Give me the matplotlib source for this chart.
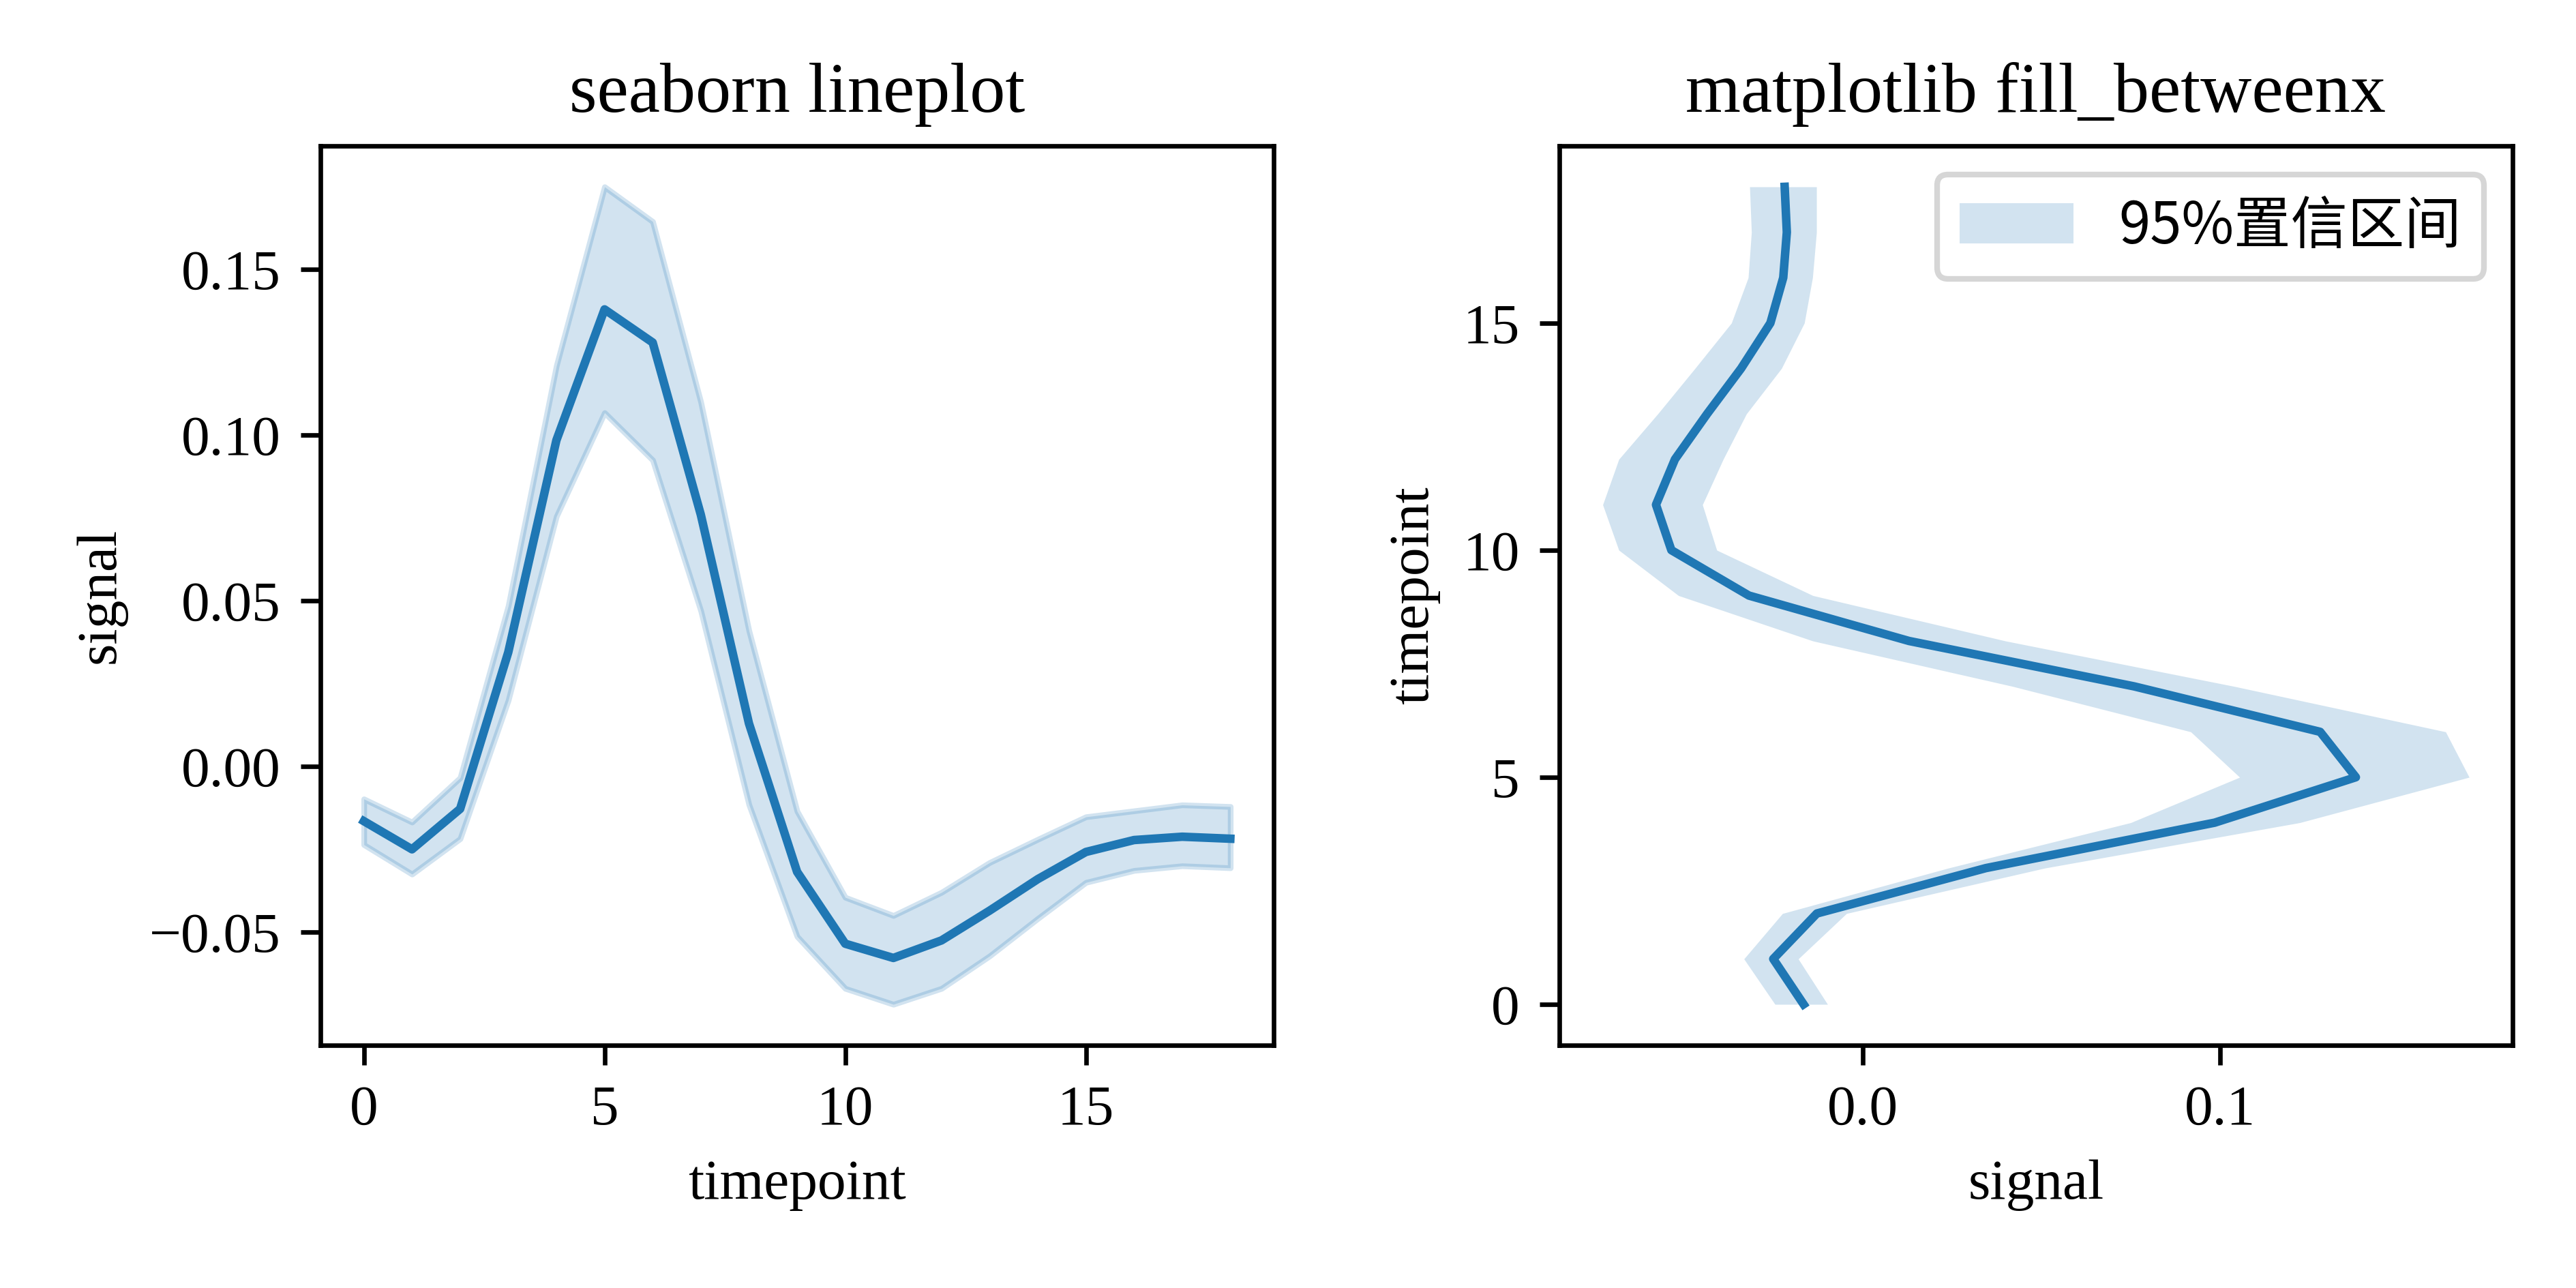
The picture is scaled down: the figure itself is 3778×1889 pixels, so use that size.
import numpy as np
import matplotlib
matplotlib.use("Agg")
import matplotlib.pyplot as plt

# fmri-style mean signal per timepoint
timepoint = np.arange(19)
signal_mean = [-0.0165, -0.0250, -0.0128, 0.0345, 0.0985, 0.1380, 0.1280, 0.0760,
               0.0130, -0.0318, -0.0535, -0.0578, -0.0525, -0.0435, -0.0340,
               -0.0258, -0.0222, -0.0212, -0.0218]
# seaborn's bootstrapped 95% band (left panel)
ci_low = [-0.0236, -0.0325, -0.0218, 0.0200, 0.0755, 0.1068, 0.0925, 0.0470,
          -0.0115, -0.0513, -0.0670, -0.0718, -0.0670, -0.0572, -0.0459,
          -0.0350, -0.0314, -0.0300, -0.0306]
ci_high = [-0.0098, -0.0168, -0.0034, 0.0485, 0.1210, 0.1750, 0.1645, 0.1100,
           0.0410, -0.0135, -0.0395, -0.0450, -0.0380, -0.0290, -0.0220,
           -0.0152, -0.0134, -0.0116, -0.0121]
# band drawn with fill_betweenx (right panel), slightly different values
ci_low_x = [-0.0245, -0.0332, -0.0224, 0.0240, 0.0750, 0.1055, 0.0918, 0.0420,
            -0.0139, -0.0515, -0.0682, -0.0727, -0.0682, -0.0573, -0.0469,
            -0.0367, -0.0320, -0.0311, -0.0316]
ci_high_x = [-0.0098, -0.0180, -0.0045, 0.0510, 0.1223, 0.1697, 0.1631, 0.1040,
             0.0400, -0.0139, -0.0408, -0.0448, -0.0390, -0.0325, -0.0227,
             -0.0163, -0.0140, -0.0129, -0.0129]

color = "#1f77b4"

plt.rcParams['font.family'] = ['Liberation Serif', 'DejaVu Serif']
plt.rcParams['font.size'] = 10
plt.rcParams['axes.unicode_minus'] = True

fig, axes = plt.subplots(1, 2, figsize=(3779 / 600, 1889 / 600), dpi=600)
axes[0].set_position([0.1244, 0.1885, 0.3699, 0.6982])
axes[1].set_position([0.6052, 0.1885, 0.3699, 0.6982])

# left: lineplot style with CI band
ax = axes[0]
ax.fill_between(timepoint, ci_low, ci_high, color=color, alpha=0.2, linewidth=1)
ax.plot(timepoint, signal_mean, color=color, linewidth=1.5)
ax.set_xlabel("timepoint")
ax.set_ylabel("signal")
ax.set_title("seaborn lineplot", fontsize=12.5)
ax.set_xticks([0, 5, 10, 15])

# right: fill_betweenx version
ax = axes[1]
ax.fill_betweenx(timepoint, ci_low_x, ci_high_x, color=color, alpha=0.2, linewidth=0,
                 label="95%置信区间")
ax.plot(signal_mean, timepoint, color=color, linewidth=1.5)
ax.set_xlabel("signal")
ax.set_ylabel("timepoint")
ax.set_title("matplotlib fill_betweenx", fontsize=12.5)
ax.set_xticks([0.0, 0.1])
ax.set_yticks([0, 5, 10, 15])
ax.legend(loc="upper right", prop={'family': ['Noto Sans CJK SC', 'DejaVu Sans'], 'size': 10})

fig.savefig("out.png", dpi=600)
